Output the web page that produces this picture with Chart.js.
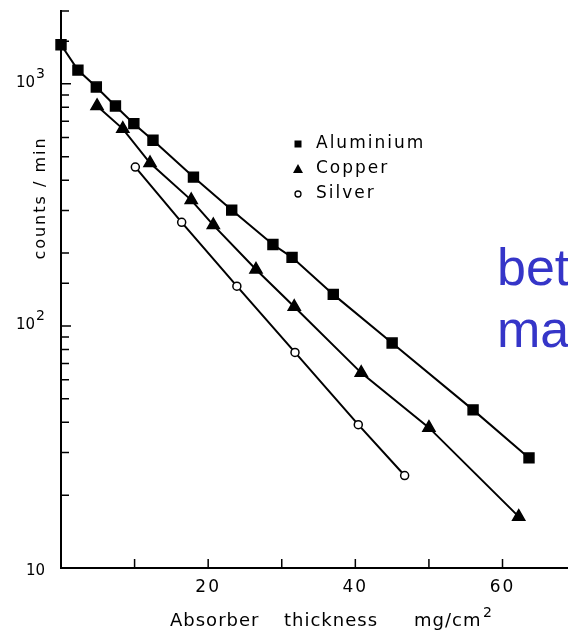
<!DOCTYPE html>
<html>
<head>
<meta charset="utf-8">
<script src="https://cdn.jsdelivr.net/npm/chart.js@4/dist/chart.umd.min.js"></script>
<style>
  body { margin: 0; background: #fff; }
  #wrap { position: relative; width: 568px; height: 630px; overflow: hidden; }
  #side { position: absolute; left: 497px; top: 236px; font: 52px "Liberation Sans", Arial, sans-serif; color: #3535c8; line-height: 62px; }
</style>
</head>
<body>
<div id="wrap">
  <canvas id="myChart" width="568" height="630"></canvas>
  <div id="side">bet<br>ma</div>
</div>
<script>
  // absorber thickness (mg/cm2) and counting rate for each metal
  const thickAl = [0, 2.3, 4.8, 7.4, 9.9, 12.5, 18.0, 23.2, 28.8, 31.4, 37.0, 45.0, 56.0, 63.6];
  const countsAl = [1450, 1140, 970, 810, 685, 585, 412, 301, 217, 192, 135, 85, 45, 28.5];

  const thickCu = [4.9, 8.4, 12.1, 17.7, 20.7, 26.5, 31.7, 40.8, 50.0, 62.2];
  const countsCu = [811, 652, 471, 331, 261, 171, 120, 64, 38, 16.3];

  const thickAg = [10.1, 16.4, 23.9, 31.8, 40.4, 46.7];
  const countsAg = [453, 268, 146, 77.7, 39.1, 24.1];

  const metals = ['Aluminium', 'Copper', 'Silver'];
  const xLabels = [20, 40, 60];              // only these get a number
  const yDecades = [10, 100, 1000];          // written as 10, 10^2, 10^3

  const FONT = '"DejaVu Sans", sans-serif';

  function pts(xs, ys) {
    return xs.map((x, i) => ({ x: x, y: ys[i] }));
  }

  function serie(label, data, style, radius, fill) {
    return {
      label: label,
      data: data,
      borderColor: '#000',
      borderWidth: 2,
      pointStyle: style,
      pointRadius: radius,
      pointBackgroundColor: fill,
      pointBorderColor: '#000',
      pointBorderWidth: 1.5,
      tension: 0,
      clip: false
    };
  }

  // spread letters out a bit, like the old stencil lettering
  const spacing = {
    id: 'spacing',
    beforeDraw(chart) { chart.ctx.letterSpacing = '2px'; }
  };

  // small ticks pointing into the plot, decade labels, legend, axis titles
  const extras = {
    id: 'extras',
    afterDraw(chart) {
      const ctx = chart.ctx, x = chart.scales.x, y = chart.scales.y;
      ctx.save();
      ctx.strokeStyle = '#000';
      ctx.fillStyle = '#000';
      ctx.lineWidth = 1.5;
      ctx.beginPath();
      x.ticks.forEach(t => {
        if (t.value <= 0 || t.value % 10 !== 0) return;
        const px = x.getPixelForValue(t.value);
        ctx.moveTo(px, y.bottom);
        ctx.lineTo(px, y.bottom - 9);
      });
      y.ticks.forEach(t => {
        if (t.value <= 10) return;
        const py = y.getPixelForValue(t.value);
        const major = yDecades.includes(t.value);
        ctx.moveTo(x.left, py);
        ctx.lineTo(x.left + (major ? 10 : 8), py);
      });
      ctx.stroke();

      // decade labels with raised exponent
      ctx.letterSpacing = '0px';
      ctx.textBaseline = 'middle';
      yDecades.forEach((v, i) => {
        const py = y.getPixelForValue(v);
        ctx.textAlign = 'right';
        ctx.font = '15px ' + FONT;
        if (i === 0) {
          ctx.fillText('10', 45, py + 3);
        } else {
          ctx.fillText('10', 35, py - 1);
          ctx.textAlign = 'left';
          ctx.font = '14px ' + FONT;
          ctx.fillText(String(i + 1), 36, py - 10);
        }
      });

      // x title, words set apart as in the drawing
      ctx.letterSpacing = '1px';
      ctx.textBaseline = 'alphabetic';
      ctx.textAlign = 'left';
      ctx.font = '18px ' + FONT;
      ctx.fillText('Absorber', 170, 626);
      ctx.fillText('thickness', 284, 626);
      ctx.fillText('mg/cm', 414, 626);
      ctx.font = '14px ' + FONT;
      ctx.fillText('2', 483, 617);

      // legend
      ctx.letterSpacing = '2px';
      ctx.textBaseline = 'middle';
      ctx.font = '17px ' + FONT;
      const lx = 298, ly = [144, 169, 194];
      ctx.fillRect(lx - 3.5, ly[0] - 3.5, 7, 7);
      ctx.beginPath();
      ctx.moveTo(lx, ly[1] - 5);
      ctx.lineTo(lx + 5, ly[1] + 4);
      ctx.lineTo(lx - 5, ly[1] + 4);
      ctx.closePath();
      ctx.fill();
      ctx.beginPath();
      ctx.lineWidth = 1.3;
      ctx.arc(lx, ly[2], 3, 0, Math.PI * 2);
      ctx.stroke();
      metals.forEach((m, i) => ctx.fillText(m, 316, ly[i]));

      // y title
      ctx.font = '16px ' + FONT;
      ctx.translate(41, 198);
      ctx.rotate(-Math.PI / 2);
      ctx.textAlign = 'center';
      ctx.fillText('counts / min', 0, 0);
      ctx.restore();
    }
  };

  const ctx = document.getElementById('myChart').getContext('2d');
  const chart = new Chart(ctx, {
    type: 'line',
    data: {
      datasets: [
        serie(metals[0], pts(thickAl, countsAl), 'rect', 7, '#000'),
        serie(metals[1], pts(thickCu, countsCu), 'triangle', 7, '#000'),
        serie(metals[2], pts(thickAg, countsAg), 'circle', 4, '#fff')
      ]
    },
    options: {
      responsive: false,
      animation: false,
      layout: { autoPadding: false, padding: { top: 11, right: 0, left: 0, bottom: 0 } },
      plugins: { legend: { display: false }, tooltip: { enabled: false } },
      scales: {
        x: {
          type: 'linear',
          min: 0,
          max: 68.9,
          afterFit(scale) { scale.height = 62; scale.paddingRight = 0; scale.paddingLeft = 0; },
          grid: { display: false, drawTicks: false },
          border: { display: true, color: '#000', width: 2 },
          ticks: {
            stepSize: 10,
            padding: 9,
            color: '#000',
            font: { family: FONT, size: 17 },
            autoSkip: false,
            maxRotation: 0,
            callback: v => xLabels.includes(v) ? String(v) : ''
          },
          title: { display: false }
        },
        y: {
          type: 'logarithmic',
          min: 10,
          max: 2000,
          afterFit(scale) { scale.width = 61; scale.paddingTop = 0; scale.paddingBottom = 0; },
          grid: { display: false, drawTicks: false },
          border: { display: true, color: '#000', width: 2 },
          ticks: {
            padding: 14,
            autoSkip: false,
            callback: () => ''
          }
        }
      }
    },
    plugins: [spacing, extras]
  });
</script>
</body>
</html>
